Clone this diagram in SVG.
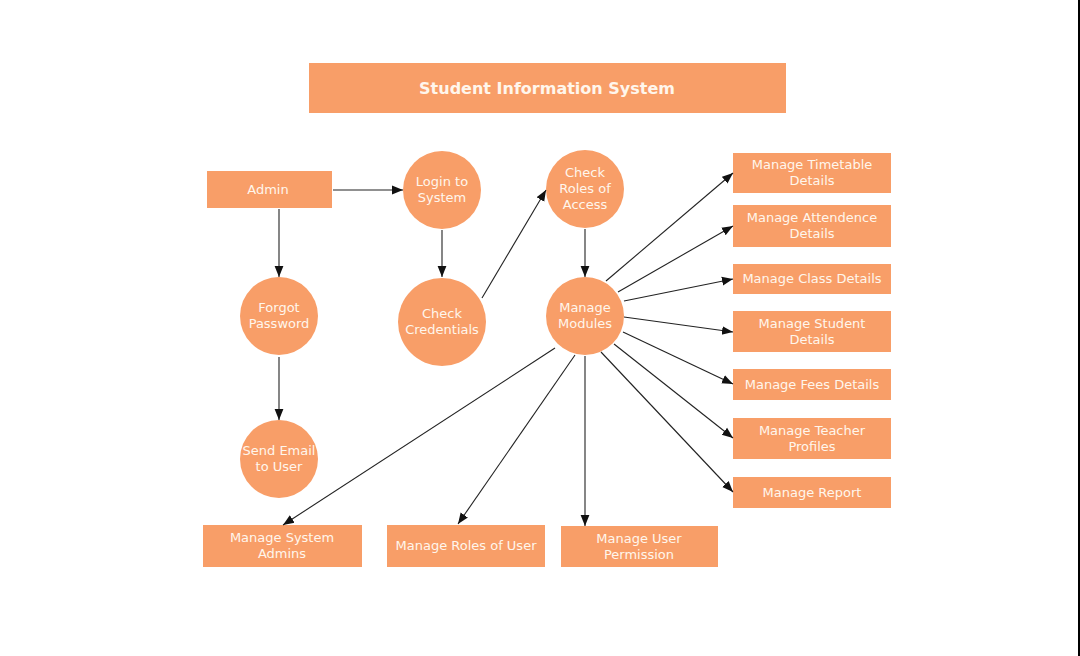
<svg xmlns="http://www.w3.org/2000/svg" width="1080" height="656" viewBox="0 0 1080 656">
<style>
.n{fill:#F89E68}
.t{font-family:"DejaVu Sans",Verdana,sans-serif;font-size:13px;fill:#FFF6EC;text-anchor:middle}
.h{font-family:"DejaVu Sans",Verdana,sans-serif;font-size:16px;font-weight:bold;fill:#FFF6EC;text-anchor:middle}
.c line{stroke:#222;stroke-width:1.1;marker-end:url(#a)}
</style>
<defs>
<marker id="a" viewBox="0 0 10 10" refX="10" refY="5" markerWidth="11" markerHeight="11" markerUnits="userSpaceOnUse" orient="auto">
<path d="M0,1 L10,5 L0,9 z" fill="#111"/>
</marker>
</defs>
<rect width="1080" height="656" fill="#FFFFFF"/>
<rect x="1078" y="0" width="2" height="656" fill="#000"/>
<g id="title"><rect class="n" x="309" y="63" width="477" height="50"/><text class="h" x="547" y="94">Student Information System</text></g>
<g id="admin"><rect class="n" x="207" y="171" width="125" height="37"/><text class="t" x="268" y="194">Admin</text></g>
<g id="login"><circle class="n" cx="442" cy="190" r="39"/><text class="t" x="442" y="186">Login to</text><text class="t" x="442" y="202">System</text></g>
<g id="credentials"><circle class="n" cx="442" cy="322" r="44"/><text class="t" x="442" y="318">Check</text><text class="t" x="442" y="334">Credentials</text></g>
<g id="forgot"><circle class="n" cx="279" cy="316" r="39"/><text class="t" x="279" y="312">Forgot</text><text class="t" x="279" y="328">Password</text></g>
<g id="email"><circle class="n" cx="279" cy="459" r="39"/><text class="t" x="279" y="455">Send Email</text><text class="t" x="279" y="471">to User</text></g>
<g id="roles"><circle class="n" cx="585" cy="189" r="39"/><text class="t" x="585" y="177">Check</text><text class="t" x="585" y="193">Roles of</text><text class="t" x="585" y="209">Access</text></g>
<g id="modules"><circle class="n" cx="585" cy="316" r="39"/><text class="t" x="585" y="312">Manage</text><text class="t" x="585" y="328">Modules</text></g>
<g id="timetable"><rect class="n" x="733" y="153" width="158" height="40"/><text class="t" x="812" y="169">Manage Timetable</text><text class="t" x="812" y="185">Details</text></g>
<g id="attendence"><rect class="n" x="733" y="205" width="158" height="42"/><text class="t" x="812" y="222">Manage Attendence</text><text class="t" x="812" y="238">Details</text></g>
<g id="class"><rect class="n" x="733" y="264" width="158" height="30"/><text class="t" x="812" y="283">Manage Class Details</text></g>
<g id="student"><rect class="n" x="733" y="311" width="158" height="41"/><text class="t" x="812" y="328">Manage Student</text><text class="t" x="812" y="344">Details</text></g>
<g id="fees"><rect class="n" x="733" y="369" width="158" height="31"/><text class="t" x="812" y="389">Manage Fees Details</text></g>
<g id="teacher"><rect class="n" x="733" y="418" width="158" height="41"/><text class="t" x="812" y="435">Manage Teacher</text><text class="t" x="812" y="451">Profiles</text></g>
<g id="report"><rect class="n" x="733" y="477" width="158" height="31"/><text class="t" x="812" y="497">Manage Report</text></g>
<g id="sysadmins"><rect class="n" x="203" y="525" width="159" height="42"/><text class="t" x="282" y="542">Manage System</text><text class="t" x="282" y="558">Admins</text></g>
<g id="roleuser"><rect class="n" x="387" y="525" width="158" height="42"/><text class="t" x="466" y="550">Manage Roles of User</text></g>
<g id="permission"><rect class="n" x="561" y="526" width="157" height="41"/><text class="t" x="639" y="543">Manage User</text><text class="t" x="639" y="559">Permission</text></g>
<g class="c" id="connectors">
<line x1="333" y1="190" x2="403" y2="190"/>
<line x1="279" y1="209" x2="279" y2="277"/>
<line x1="279" y1="357" x2="279" y2="420"/>
<line x1="442" y1="230" x2="442" y2="277"/>
<line x1="482" y1="298" x2="546" y2="190"/>
<line x1="585" y1="229" x2="585" y2="277"/>
<line x1="606" y1="281" x2="733" y2="173"/>
<line x1="618" y1="292" x2="733" y2="226"/>
<line x1="624" y1="301" x2="733" y2="279"/>
<line x1="624" y1="317" x2="733" y2="332"/>
<line x1="623" y1="332" x2="733" y2="384"/>
<line x1="614" y1="344" x2="733" y2="438"/>
<line x1="601" y1="352" x2="733" y2="492"/>
<line x1="585" y1="356" x2="585" y2="526"/>
<line x1="575" y1="355" x2="458" y2="524"/>
<line x1="555" y1="348" x2="283" y2="525"/>
</g>
</svg>
